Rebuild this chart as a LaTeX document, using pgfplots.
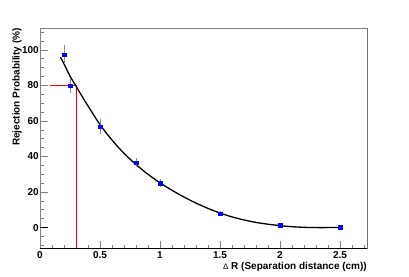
\documentclass[border=0pt]{standalone}
\usepackage{fontspec}
\setmainfont{Liberation Sans}
\usepackage{pgfplots}
\pgfplotsset{compat=1.18}
\definecolor{maroon}{RGB}{128,0,0}
\begin{document}
\begin{tikzpicture}[x=1pt,y=1pt]
\useasboundingbox (0,0) rectangle (409,276);
\begin{axis}[
  at={(40pt,28pt)}, anchor=south west,
  scale only axis, width=327pt, height=220pt,
  xmin=0, xmax=2.725, ymin=-11.5, ymax=112.4,
  xtick={0,0.5,1,1.5,2,2.5},
  xticklabels={0,0.5,1,1.5,2,2.5},
  minor xtick={0.1,0.2,0.3,0.4,0.6,0.7,0.8,0.9,1.1,1.2,1.3,1.4,1.6,1.7,1.8,1.9,2.1,2.2,2.3,2.4,2.6,2.7},
  ytick={0,20,40,60,80,100},
  yticklabels={0,20,40,60,80,100},
  minor ytick={-10,-5,5,10,15,25,30,35,45,50,55,65,70,75,85,90,95,105,110},
  tick align=inside, tick pos=left,
  major tick length=7.5pt, minor tick length=3.5pt,
  tick style={color=black!50, line width=0.8pt},
  axis line style={color=black!50, line width=0.8pt},
  extra y ticks={0}, extra y tick labels={},
  extra y tick style={tick style={color=black}},
  ticklabel style={font=\fontsize{10}{12}\selectfont\bfseries, inner sep=1pt},
  xticklabel style={yshift=-2pt},
  xlabel={{\mdseries\fontsize{8}{8}\selectfont Δ} R (Separation distance (cm))},
  xlabel style={at={(rel axis cs:1,0)}, anchor=north east, inner sep=0pt, yshift=-14pt, font=\fontsize{10}{12}\selectfont\bfseries},
  ylabel={Rejection Probability (\%)},
  ylabel style={at={(axis description cs:-0.055,1)}, anchor=south east, inner sep=0pt, font=\fontsize{10}{12}\selectfont\bfseries},
]
\addplot[red, line width=1pt] coordinates {(0.083,80) (0.3,80) (0.3,-11.5)};
\addplot[black, line width=1.3pt, smooth] coordinates {
(0.17,96) (0.2,92.2) (0.25,85.3) (0.3,79.7) (0.35,74) (0.4,68.5) (0.5,58)
(0.6,49.3) (0.7,41.8) (0.8,35.5) (0.9,30) (1.0,25.2) (1.1,21) (1.2,17.2)
(1.3,13.8) (1.4,10.8) (1.5,8.2) (1.6,6.0) (1.7,4.3) (1.8,2.9) (1.9,1.9)
(2.0,1.1) (2.1,0.5) (2.2,0.15) (2.3,0) (2.4,0) (2.5,0.1)};
\addplot[only marks, mark=square*, mark size=1.8pt, color=blue,
  error bars/.cd, y dir=both, y explicit,
  error bar style={black!45, line width=0.6pt},
  error mark options={black!45, mark size=1.2pt, line width=0.6pt}]
  table[x=x, y=y, y error=e] {
x y e
0.2 97.3 4.7
0.25 80 3.8
0.5 56.9 3.4
0.8 36.5 1.8
1.0 25.1 1.5
1.5 7.8 0.7
2.0 1.2 0.5
2.5 0.1 0.3
};
\draw[black, line width=0.8pt] (rel axis cs:0,0) -- (rel axis cs:1,0);
\draw[maroon, line width=0.8pt] (rel axis cs:1,0) -- (rel axis cs:1,1);
\end{axis}
\end{tikzpicture}
\end{document}
